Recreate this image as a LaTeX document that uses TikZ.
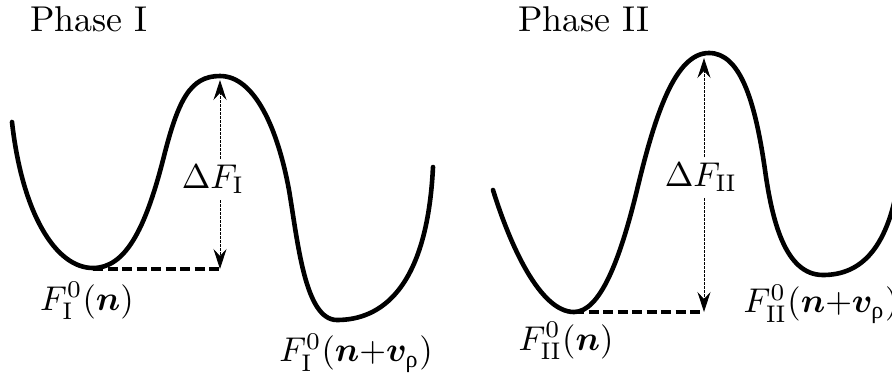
\documentclass[tikz,border=0pt]{standalone}
\usepackage{amsmath,bm}
\usepackage{fontspec}
\newfontfamily\grk{Liberation Serif}
\usetikzlibrary{arrows.meta}
\newcommand{\vrho}{\text{\grk ρ}}
\begin{document}
\begin{tikzpicture}[x=1bp,y=-1bp,
  curve/.style={line width=4.6bp,line cap=round,line join=round},
  base/.style={line width=3.6bp,dash pattern=on 10bp off 4.5bp},
  gauge/.style={line width=0.9bp,dash pattern=on 2.5bp off 1.5bp,-{Stealth[length=20bp,width=13bp,inset=7bp]}},
  lbl/.style={font=\fontsize{10}{12}\selectfont,inner sep=0pt,scale=3.45},
  ttl/.style={font=\fontsize{10}{12}\selectfont,inner sep=0pt,scale=3.6}]
\useasboundingbox (0,0) rectangle (892,379);
% titles
\node[ttl] (t1) at (89,19) {Phase I};
\node[ttl] (t2) at (584,19) {Phase II};
% Phase I curve
\draw[curve] (12,122) .. controls (22,212) and (55,268) .. (93,268)
  .. controls (125,268) and (145,230) .. (163,160)
  .. controls (178,100) and (190,76) .. (220,76)
  .. controls (255,76) and (278,130) .. (289,190)
  .. controls (298,243) and (305,320) .. (337,320)
  .. controls (380,320) and (427,290) .. (433,167);
% Phase II curve
\begin{scope}
\clip (0,0) rectangle (892,379);
\draw[curve] (493,190) .. controls (510,245) and (540,312) .. (574,312)
  .. controls (600,312) and (620,260) .. (637,190)
  .. controls (655,115) and (675,53) .. (709,53)
  .. controls (740,53) and (755,100) .. (765,170)
  .. controls (772,220) and (785,275) .. (823,275)
  .. controls (860,275) and (890,250) .. (900,170);
\end{scope}
% Phase I levels
\coordinate (m1) at (93,269);
\coordinate (b1) at (220,269);
\coordinate (p1) at (220,80);
\draw[base] (m1) -- (b1);
\node[lbl] (d1) at (213,179) {$\Delta F_{\mathrm{I}}$};
\draw[gauge] (p1 |- d1.north) ++(0,-5) -- (p1);
\draw[gauge] (b1 |- d1.south) ++(0,6) -- (b1);
\node[lbl] (l1) at (87,301) {$F^{0}_{\mathrm{I}}(\bm{n})$};
\node[lbl] (r1) at (356,353) {$F^{0}_{\mathrm{I}}(\bm{n}{+}\bm{v}_{\vrho})$};
% Phase II levels
\coordinate (m2) at (574,312);
\coordinate (b2) at (704,312);
\coordinate (p2) at (704,58);
\draw[base] (m2) -- (b2);
\node[lbl] (d2) at (701,177) {$\Delta F_{\mathrm{II}}$};
\draw[gauge] (p2 |- d2.north) ++(0,-5) -- (p2);
\draw[gauge] (b2 |- d2.south) ++(0,6) -- (b2);
\node[lbl] (l2) at (566,341) {$F^{0}_{\mathrm{II}}(\bm{n})$};
\node[lbl,anchor=west] (r2) at (743,304) {$F^{0}_{\mathrm{II}}(\bm{n}{+}\bm{v}_{\vrho})$};
\end{tikzpicture}
\end{document}
